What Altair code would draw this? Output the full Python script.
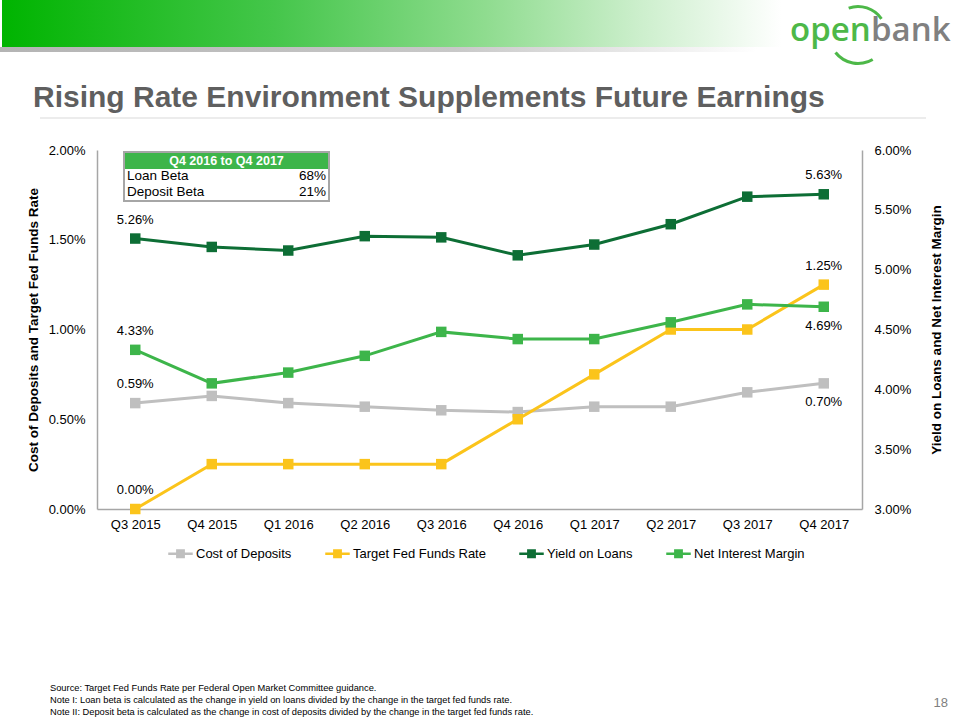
import altair as alt
import pandas as pd

# ---------------- data ----------------
quarters = ["Q3 2015", "Q4 2015", "Q1 2016", "Q2 2016", "Q3 2016",
            "Q4 2016", "Q1 2017", "Q2 2017", "Q3 2017", "Q4 2017"]
cost_of_deposits = [0.59, 0.63, 0.59, 0.57, 0.55, 0.54, 0.57, 0.57, 0.65, 0.70]
target_fed_funds = [0.00, 0.25, 0.25, 0.25, 0.25, 0.50, 0.75, 1.00, 1.00, 1.25]
yield_on_loans = [5.26, 5.19, 5.16, 5.28, 5.27, 5.12, 5.21, 5.38, 5.61, 5.63]
net_interest_margin = [4.33, 4.05, 4.14, 4.28, 4.48, 4.42, 4.42, 4.56, 4.71, 4.69]

series_names = ["Cost of Deposits", "Target Fed Funds Rate", "Yield on Loans", "Net Interest Margin"]
series_colors = ["#BFBFBF", "#FBC41B", "#0D6E35", "#3DB54A"]
left_series = ["Cost of Deposits", "Target Fed Funds Rate"]
right_series = ["Yield on Loans", "Net Interest Margin"]

# labelled points: (series, quarter, position)
labelled = [
    ("Cost of Deposits", "Q3 2015", "above"),
    ("Cost of Deposits", "Q4 2017", "below"),
    ("Target Fed Funds Rate", "Q3 2015", "above"),
    ("Target Fed Funds Rate", "Q4 2017", "above"),
    ("Yield on Loans", "Q3 2015", "above"),
    ("Yield on Loans", "Q4 2017", "above"),
    ("Net Interest Margin", "Q3 2015", "above"),
    ("Net Interest Margin", "Q4 2017", "below"),
]

left_ticks = [0.0, 0.5, 1.0, 1.5, 2.0]
right_ticks = [3.0, 3.5, 4.0, 4.5, 5.0, 5.5, 6.0]

table_header = ["Q4 2016 to Q4 2017"]
table_rows = ["Loan Beta", "Deposit Beta"]
table_values = ["68%", "21%"]

title_text = ["Rising Rate Environment Supplements Future Earnings"]
footnotes = [
    "Source: Target Fed Funds Rate per Federal Open Market Committee guidance.",
    "Note I: Loan beta is calculated as the change in yield on loans divided by the change in the target fed funds rate.",
    "Note II: Deposit beta is calculated as the change in cost of deposits divided by the change in the target fed funds rate.",
]
page_number = ["18"]
left_title = "Cost of Deposits and Target Fed Funds Rate"
right_title = "Yield on Loans and Net Interest Margin"

# ---------------- build table ----------------
values_by_series = dict(zip(series_names, [cost_of_deposits, target_fed_funds,
                                           yield_on_loans, net_interest_margin]))
color_by_series = dict(zip(series_names, series_colors))
pos_lookup = {(s, q): p for s, q, p in labelled}
rows = []
for s in series_names:
    for q, v in zip(quarters, values_by_series[s]):
        rows.append({"quarter": q, "series": s, "value": v,
                     "label": f"{v:.2f}%", "pos": pos_lookup.get((s, q), "")})
df = pd.DataFrame(rows)

FONT = "Liberation Sans"
W, H = 765, 359

color_scale = alt.Scale(domain=series_names, range=series_colors)
x_enc = alt.X("quarter:N", sort=quarters,
              scale=alt.Scale(type="point", padding=0.5),
              axis=alt.Axis(title=None, labelAngle=0, ticks=False, grid=False,
                            domainColor="#A6A6A6", domainWidth=1.5,
                            labelFontSize=13, labelColor="#000000", labelPadding=9))

legend_symbol = "M-1,-0.1H1V0.1H-1Z M-0.36,-0.36H0.36V0.36H-0.36Z"
legend_def = alt.Legend(title=None, orient="none", direction="horizontal",
                        legendX=71, legendY=391,
                        symbolType=legend_symbol, symbolSize=600,
                        symbolOpacity=1, symbolStrokeWidth=0,
                        labelFontSize=13, labelColor="#000000",
                        labelOffset=3, columnPadding=33)


def group(series_list, domain, ticks, orient, title, title_pad):
    data = df[df.series.isin(series_list)]
    y_enc = alt.Y("value:Q",
                  scale=alt.Scale(domain=domain, nice=False, zero=False),
                  axis=alt.Axis(orient=orient, title=title, values=ticks,
                                labelExpr="format(datum.value, '.2f') + '%'",
                                grid=False, ticks=False, domainColor="#A6A6A6",
                                domainWidth=1.5, labelFontSize=13,
                                labelColor="#000000", labelPadding=12,
                                titleFontSize=13.5, titleFontWeight="bold",
                                titleColor="#000000", titlePadding=title_pad,
                                titleAngle=270))
    base = alt.Chart(data).encode(x=x_enc, y=y_enc)
    layers = []
    for s in series_list:
        layers.append(base.transform_filter(alt.datum.series == s)
                      .mark_line(strokeWidth=3, color=color_by_series[s]))
    layers.append(base.mark_point(shape="square", filled=True, size=110, opacity=1).encode(
        color=alt.Color("series:N", scale=color_scale, legend=legend_def)))
    layers.append(base.transform_filter("datum.pos == 'above'").mark_text(
        dy=-19, fontSize=13, color="#000000").encode(text="label:N"))
    layers.append(base.transform_filter("datum.pos == 'below'").mark_text(
        dy=19, fontSize=13, color="#000000").encode(text="label:N"))
    return alt.layer(*layers)


left = group(left_series, [0, 2], left_ticks, "left", left_title, 8)
right = group(right_series, [3, 6], right_ticks, "right", right_title, 33)

one = pd.DataFrame({"k": [0]})

# ---------------- decorations ----------------
header = alt.Chart(one).mark_rect(
    color=alt.Gradient(gradient="linear", x1=0, x2=1, y1=0, y2=0,
                       stops=[alt.GradientStop(color="#00B400", offset=0),
                              alt.GradientStop(color="#45C64B", offset=0.35),
                              alt.GradientStop(color="#8FDC8F", offset=0.62),
                              alt.GradientStop(color="#CDEFCD", offset=0.82),
                              alt.GradientStop(color="#FFFFFF", offset=1)])
).encode(x=alt.value(-95), x2=alt.value(685), y=alt.value(-150), y2=alt.value(-103))

shadow = alt.Chart(one).mark_rect(
    color=alt.Gradient(gradient="linear", x1=0, x2=1, y1=0, y2=0,
                       stops=[alt.GradientStop(color="#B4B4B4", offset=0),
                              alt.GradientStop(color="#C8C8C8", offset=0.6),
                              alt.GradientStop(color="#FFFFFF", offset=1)])
).encode(x=alt.value(-97), x2=alt.value(660), y=alt.value(-103), y2=alt.value(-98))

title = alt.Chart(pd.DataFrame({"t": title_text})).mark_text(
    align="left", baseline="alphabetic", fontSize=30, fontWeight="bold",
    color="#5F5F5F").encode(text="t:N", x=alt.value(-64), y=alt.value(-43))

underline = alt.Chart(one).mark_rule(color="#D9D9D9", strokeWidth=1).encode(
    x=alt.value(-57), x2=alt.value(829), y=alt.value(-32))

arc_top = alt.Chart(one).mark_arc(theta=5.95, theta2=7.25, innerRadius=27,
                                  outerRadius=30, color="#4DB848").encode(
    x=alt.value(761), y=alt.value(-115))
arc_bottom = alt.Chart(one).mark_arc(theta=2.6, theta2=4.05, innerRadius=27,
                                     outerRadius=30, color="#4DB848").encode(
    x=alt.value(761), y=alt.value(-115))
logo_open = alt.Chart(pd.DataFrame({"t": ["open"]})).mark_text(
    align="left", baseline="alphabetic", fontSize=33, font="Open Sans",
    fontWeight=600, color="#4DB848").encode(text="t:N", x=alt.value(693), y=alt.value(-109))
logo_bank = alt.Chart(pd.DataFrame({"t": ["bank"]})).mark_text(
    align="left", baseline="alphabetic", fontSize=33, font="Open Sans",
    fontWeight=600, color="#808080").encode(text="t:N", x=alt.value(774), y=alt.value(-109))

# inset table
tbl_border = alt.Chart(one).mark_rect(fill="#FFFFFF", stroke="#A6A6A6", strokeWidth=2).encode(
    x=alt.value(27), x2=alt.value(232), y=alt.value(2), y2=alt.value(51))
tbl_head = alt.Chart(one).mark_rect(fill="#3DB54A").encode(
    x=alt.value(28), x2=alt.value(231), y=alt.value(3), y2=alt.value(19))
tbl_head_text = alt.Chart(pd.DataFrame({"t": table_header})).mark_text(
    align="center", baseline="middle", fontSize=12.5, fontWeight="bold",
    color="#FFFFFF").encode(text="t:N", x=alt.value(129.5), y=alt.value(11))
tbl_df = pd.DataFrame({"row": table_rows, "val": table_values})
row_y = alt.Y("row:N", sort=table_rows, axis=None,
              scale=alt.Scale(range=[26, 42], type="point", padding=0))
tbl_left = alt.Chart(tbl_df).mark_text(
    align="left", baseline="middle", fontSize=13.5, color="#000000").encode(
    text="row:N", y=row_y, x=alt.value(30))
tbl_right = alt.Chart(tbl_df).mark_text(
    align="right", baseline="middle", fontSize=13.5, color="#000000").encode(
    text="val:N", y=row_y, x=alt.value(229))
table = alt.layer(tbl_border, tbl_head, tbl_head_text, tbl_left, tbl_right)

foot_df = pd.DataFrame({"t": footnotes, "i": list(range(len(footnotes)))})
foot = alt.Chart(foot_df).mark_text(
    align="left", baseline="middle", fontSize=9.3, color="#000000").encode(
    text="t:N",
    y=alt.Y("i:O", axis=None, scale=alt.Scale(type="point", padding=0, range=[538, 562])),
    x=alt.value(-47))

page = alt.Chart(pd.DataFrame({"t": page_number})).mark_text(
    align="right", baseline="middle", fontSize=13, color="#7F7F7F").encode(
    text="t:N", x=alt.value(851), y=alt.value(553))

data_layers = alt.layer(left, right).resolve_scale(y="independent")

chart = alt.layer(
    header, shadow, title, underline, arc_top, arc_bottom, logo_open, logo_bank,
    data_layers, table, foot, page
).resolve_scale(y="independent").properties(
    width=W, height=H,
    autosize=alt.AutoSizeParams(type="none"),
    padding={"left": 97, "top": 150, "right": 98, "bottom": 211},
    background="#FFFFFF",
).configure(font=FONT).configure_view(stroke=None)

chart.save("out.html", embed_options={"renderer": "svg", "actions": False})
